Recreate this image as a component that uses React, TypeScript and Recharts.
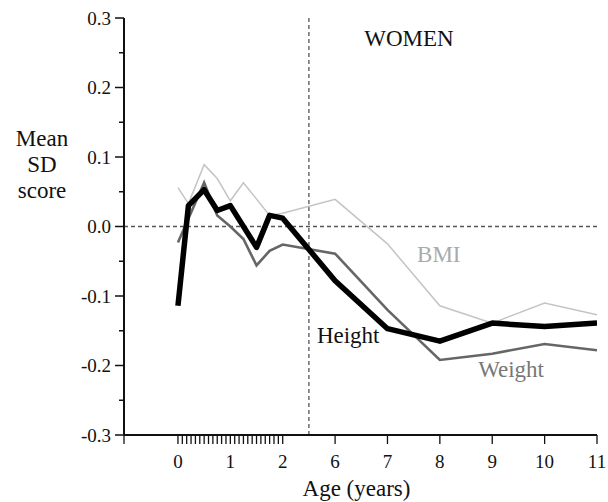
import React from 'react';
import { LineChart, Line, XAxis, YAxis, ReferenceLine, ReferenceDot } from 'recharts';

// x position on the (broken) age axis: 0..2 years linear, then 6..11 years one unit each
const agePos = [0, 0.2, 0.5, 0.75, 1, 1.25, 1.5, 1.75, 2, 3, 4, 5, 6, 7, 8];
const heightSD = [-0.114, 0.03, 0.053, 0.023, 0.03, null, -0.03, 0.016, 0.012, -0.078, -0.147, -0.165, -0.139, -0.144, -0.139];
const weightSD = [-0.023, null, 0.063, 0.016, 0.0, -0.018, -0.056, -0.035, -0.026, -0.039, -0.12, -0.192, -0.183, -0.169, -0.178];
const bmiSD = [0.056, 0.033, 0.089, 0.069, 0.037, 0.063, null, 0.016, 0.019, 0.039, -0.025, -0.114, -0.139, -0.11, -0.127];

const majorTickPos = [0, 1, 2, 3, 4, 5, 6, 7, 8];
const majorTickLabels = ['0', '1', '2', '6', '7', '8', '9', '10', '11'];
const yTicks = [-0.3, -0.25, -0.2, -0.15, -0.1, -0.05, 0, 0.05, 0.1, 0.15, 0.2, 0.25, 0.3];

const X_MIN = -1.03;
const monthTicks = Array.from({ length: 25 }, (_, k) => k / 12);
const xTicks = [X_MIN, ...monthTicks, 3, 4, 5, 6, 7, 8];

const rows = agePos.map((a, i) => ({ age: a, height: heightSD[i], weight: weightSD[i], bmi: bmiSD[i] }));

const FONT = '"Liberation Serif", "Times New Roman", serif';

const XTick = (props: any) => {
  const v = props.payload.value;
  const idx = majorTickPos.findIndex((p) => Math.abs(p - v) < 1e-6);
  if (idx < 0) return null;
  return (
    <text x={props.x} y={props.y} dy="0.71em" textAnchor="middle" fontFamily={FONT} fontSize={19} fill="#111">
      {majorTickLabels[idx]}
    </text>
  );
};

const YTick = (props: any) => {
  const v = props.payload.value;
  const major = Math.abs(v * 10 - Math.round(v * 10)) < 1e-6;
  const axisX = props.x + 13;
  return (
    <g>
      <line x1={axisX} x2={axisX - (major ? 9 : 5)} y1={props.y} y2={props.y} stroke="#111" strokeWidth={1.5} />
      {major && (
        <text x={axisX - 13} y={props.y} dy="0.355em" textAnchor="end" fontFamily={FONT} fontSize={19} fill="#111">
          {v.toFixed(1)}
        </text>
      )}
    </g>
  );
};

const textShape = (label: string, color: string, size: number) => (p: any) => (
  <text x={p.cx} y={p.cy} textAnchor="middle" fontFamily={FONT} fontSize={size} fill={color}>
    {label}
  </text>
);

const YLabel = (p: any) => {
  const vb = p.viewBox;
  const cx = vb.x + 38;
  return (
    <text textAnchor="middle" fontFamily={FONT} fontSize={23} fill="#111">
      <tspan x={cx} y={vb.y + 128}>Mean</tspan>
      <tspan x={cx} y={vb.y + 154}>SD</tspan>
      <tspan x={cx} y={vb.y + 180}>score</tspan>
    </text>
  );
};

const XLabel = (p: any) => {
  const vb = p.viewBox;
  return (
    <text x={vb.x + vb.width / 2 - 4} y={vb.y + 61} textAnchor="middle" fontFamily={FONT} fontSize={23} fill="#111">
      Age (years)
    </text>
  );
};

export default function App() {
  return (
    <div style={{ position: 'absolute', left: 0, top: 0, width: 608, height: 502 }}>
      <LineChart width={608} height={502} data={rows} margin={{ top: 18, right: 11, bottom: 7, left: 4 }}>
        <XAxis
          dataKey="age"
          type="number"
          domain={[X_MIN, 8]}
          ticks={xTicks}
          interval={0}
          allowDataOverflow
          tick={XTick}
          tickSize={9}
          tickMargin={11}
          tickLine={{ stroke: '#111', strokeWidth: 1.3 }}
          axisLine={{ stroke: '#111', strokeWidth: 2 }}
          height={60}
          label={XLabel}
        />
        <YAxis
          type="number"
          domain={[-0.3, 0.3]}
          ticks={yTicks}
          interval={0}
          allowDataOverflow
          tick={YTick}
          tickSize={9}
          tickMargin={4}
          tickLine={false}
          axisLine={{ stroke: '#111', strokeWidth: 2 }}
          width={120}
          label={YLabel}
        />
        <ReferenceLine y={0} stroke="#555" strokeDasharray="4 3" strokeWidth={1.3} />
        <ReferenceLine x={2.5} stroke="#555" strokeDasharray="4 3" strokeWidth={1.3} />
        <Line dataKey="bmi" type="linear" stroke="#c4c4c4" strokeWidth={1.5} dot={false} connectNulls isAnimationActive={false} />
        <Line dataKey="weight" type="linear" stroke="#666" strokeWidth={2.6} dot={false} connectNulls isAnimationActive={false} />
        <Line dataKey="height" type="linear" stroke="#000" strokeWidth={5.5} strokeLinejoin="round" dot={false} connectNulls isAnimationActive={false} />
        <ReferenceDot x={4.41} y={0.26} r={0} shape={textShape('WOMEN', '#111', 23)} />
        <ReferenceDot x={4.98} y={-0.051} r={0} shape={textShape('BMI', '#aaa', 23)} />
        <ReferenceDot x={3.25} y={-0.168} r={0} shape={textShape('Height', '#111', 23)} />
        <ReferenceDot x={6.36} y={-0.217} r={0} shape={textShape('Weight', '#777', 23)} />
      </LineChart>
    </div>
  );
}
